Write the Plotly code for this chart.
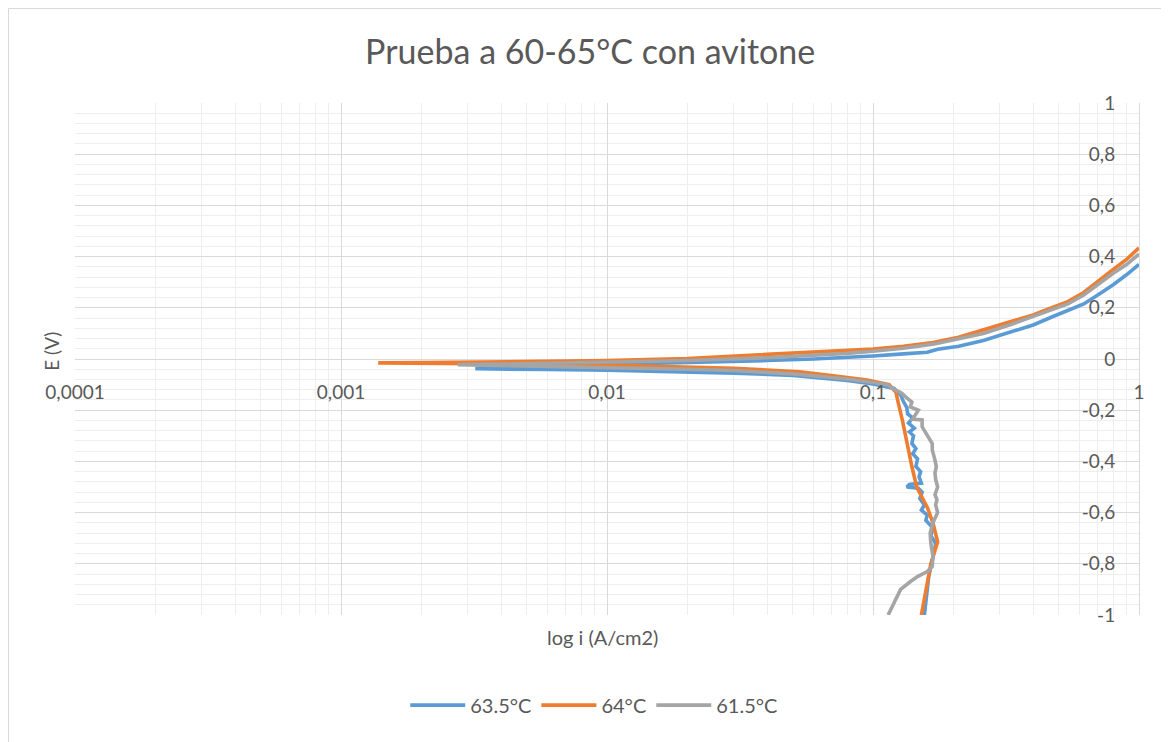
import plotly.graph_objects as go

# 63.5°C : cathodic branch from -1 V up to Ecorr, then anodic branch
i_635 = [0.156, 0.162, 0.170, 0.172, 0.165, 0.168, 0.158, 0.160, 0.152, 0.156, 0.150, 0.153,
         0.148, 0.134, 0.137, 0.152, 0.149, 0.151, 0.145, 0.147, 0.141, 0.145, 0.140, 0.142,
         0.137, 0.143, 0.136, 0.141, 0.135, 0.134, 0.130, 0.127, 0.120, 0.100, 0.080, 0.050,
         0.030, 0.020, 0.010, 0.006, 0.0032,
         0.0035, 0.006, 0.010, 0.020, 0.040, 0.060, 0.080, 0.100, 0.130, 0.160, 0.175, 0.210,
         0.260, 0.320, 0.400, 0.480, 0.560, 0.620, 0.700, 0.800, 0.900, 1.0]
E_635 = [-1.0, -0.85, -0.75, -0.72, -0.69, -0.66, -0.63, -0.61, -0.59, -0.57, -0.545, -0.52,
         -0.505, -0.50, -0.49, -0.485, -0.46, -0.44, -0.42, -0.39, -0.37, -0.35, -0.33, -0.30,
         -0.285, -0.27, -0.25, -0.23, -0.215, -0.19, -0.165, -0.14, -0.115, -0.098, -0.084, -0.064,
         -0.055, -0.050, -0.044, -0.041, -0.038,
         -0.032, -0.027, -0.022, -0.015, -0.006, 0.0, 0.006, 0.012, 0.020, 0.026, 0.038, 0.050,
         0.072, 0.100, 0.133, 0.168, 0.195, 0.215, 0.250, 0.290, 0.330, 0.370]

# 64°C
i_64 = [0.152, 0.158, 0.165, 0.175, 0.168, 0.160, 0.146, 0.140, 0.134, 0.129, 0.125, 0.122,
        0.115, 0.095, 0.071, 0.053, 0.030, 0.020, 0.010, 0.005, 0.0025, 0.00138,
        0.002, 0.005, 0.010, 0.020, 0.040, 0.060, 0.080, 0.100, 0.130, 0.168, 0.210, 0.260,
        0.330, 0.400, 0.470, 0.540, 0.620, 0.710, 0.800, 0.900, 1.0]
E_64 = [-1.0, -0.90, -0.80, -0.715, -0.64, -0.58, -0.50, -0.42, -0.32, -0.24, -0.18, -0.13,
        -0.10, -0.082, -0.066, -0.050, -0.036, -0.031, -0.024, -0.020, -0.017, -0.015,
        -0.014, -0.010, -0.006, 0.002, 0.017, 0.026, 0.033, 0.039, 0.050, 0.064, 0.085, 0.113,
        0.145, 0.172, 0.200, 0.224, 0.260, 0.309, 0.350, 0.390, 0.434]

# 61.5°C
i_615 = [0.114, 0.120, 0.127, 0.138, 0.147, 0.160, 0.167, 0.168, 0.165, 0.164, 0.168, 0.175,
         0.172, 0.174, 0.171, 0.175, 0.172, 0.171, 0.173, 0.171, 0.167, 0.167, 0.160, 0.153,
         0.153, 0.141, 0.146, 0.148, 0.138, 0.140, 0.134, 0.128, 0.121, 0.113, 0.100, 0.080,
         0.050, 0.030, 0.020, 0.010, 0.005, 0.00275,
         0.004, 0.010, 0.020, 0.040, 0.060, 0.080, 0.100, 0.130, 0.168, 0.210, 0.260, 0.330,
         0.400, 0.470, 0.540, 0.620, 0.710, 0.800, 0.900, 1.0]
E_615 = [-1.0, -0.95, -0.90, -0.87, -0.85, -0.83, -0.81, -0.77, -0.72, -0.68, -0.64, -0.60,
         -0.57, -0.55, -0.53, -0.50, -0.47, -0.445, -0.42, -0.395, -0.355, -0.33, -0.30, -0.265,
         -0.238, -0.235, -0.21, -0.20, -0.187, -0.168, -0.152, -0.133, -0.121, -0.10, -0.092, -0.078,
         -0.058, -0.045, -0.040, -0.034, -0.028, -0.022,
         -0.020, -0.013, -0.006, 0.005, 0.013, 0.022, 0.030, 0.042, 0.058, 0.078, 0.100, 0.135,
         0.165, 0.190, 0.215, 0.250, 0.297, 0.335, 0.370, 0.410]

series = [
    ("63.5°C", i_635, E_635, "#5B9BD5"),
    ("64°C", i_64, E_64, "#ED7D31"),
    ("61.5°C", i_615, E_615, "#A5A5A5"),
]

x_ticks = [0.0001, 0.001, 0.01, 0.1, 1]
x_ticktext = ["0,0001", "0,001", "0,01", "0,1", "1"]
y_ticks = [-1, -0.8, -0.6, -0.4, -0.2, 0, 0.2, 0.4, 0.6, 0.8, 1]
y_ticktext = ["-1", "-0,8", "-0,6", "-0,4", "-0,2", "0", "0,2", "0,4", "0,6", "0,8", "1"]

FONT = "Lato"
GREY_TXT = "#595959"

fig = go.Figure()
for name, xs, ys, col in series:
    fig.add_trace(go.Scatter(x=xs, y=ys, mode="lines", name=name,
                             line=dict(color=col, width=3.6)))

# the page body adds an 8 px offset, margins are set to compensate
fig.update_layout(
    width=1169, height=742,
    margin=dict(l=67, r=38, t=95, b=135, autoexpand=False),
    paper_bgcolor="white", plot_bgcolor="white",
    font=dict(family=FONT, size=19, color=GREY_TXT),
    title=dict(text="Prueba a 60-65°C con avitone", x=0.498, xref="container",
               y=1 - 44 / 742, yanchor="middle", font=dict(size=34, color=GREY_TXT)),
    legend=dict(orientation="h", x=0.488, xanchor="center", y=-0.176, yanchor="middle",
                font=dict(size=20, color=GREY_TXT), itemwidth=55),
    showlegend=True,
)

fig.update_xaxes(
    type="log", range=[-4.00001, 0.00001], anchor="free", position=0.5,
    tickvals=x_ticks, ticktext=x_ticktext, ticks="", ticklabelstandoff=20,
    showgrid=True, gridcolor="#d9d9d9", gridwidth=1,
    minor=dict(showgrid=True, gridcolor="#eeeeee", dtick="D1"),
    showline=False, zeroline=False, automargin=False,
)
fig.update_yaxes(
    range=[-1, 1], anchor="free", position=1, side="left",
    tickvals=y_ticks, ticktext=y_ticktext, ticks="", ticklabelstandoff=20,
    showgrid=True, gridcolor="#d9d9d9", gridwidth=1,
    minor=dict(showgrid=True, gridcolor="#eeeeee", dtick=0.04),
    showline=True, linecolor="#d9d9d9", linewidth=1,
    zeroline=True, zerolinecolor="#d9d9d9", zerolinewidth=1, automargin=False,
)

fig.add_annotation(text="E (V)", textangle=-90, xref="paper", yref="paper",
                   x=-0.0216, y=0.514, xanchor="center", yanchor="middle",
                   showarrow=False, font=dict(size=19, color=GREY_TXT))
fig.add_annotation(text="log i (A/cm2)", xref="paper", yref="paper",
                   x=0.496, y=-0.043, xanchor="center", yanchor="middle",
                   showarrow=False, font=dict(size=20, color=GREY_TXT))

# outer chart border (left and top edges visible)
fig.add_shape(type="rect", xref="paper", yref="paper",
              x0=-0.0625, x1=1.05, y0=-0.3, y1=1.1846,
              line=dict(color="#d9d9d9", width=1), fillcolor="rgba(0,0,0,0)", layer="below")

fig.write_html("out.html")
